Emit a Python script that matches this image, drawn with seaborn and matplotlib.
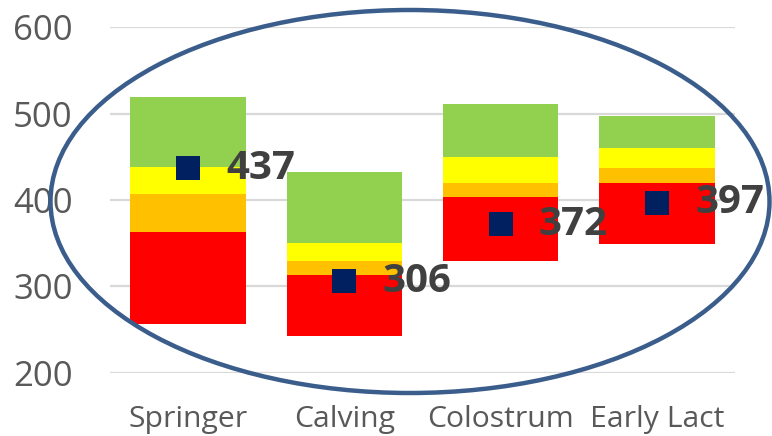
import matplotlib
matplotlib.use("Agg")
import matplotlib.pyplot as plt
from matplotlib.patches import Ellipse
import seaborn as sns
import numpy as np
import pandas as pd

# Stage categories and the floating band boundaries for each
categories = ["Springer", "Calving", "Colostrum", "Early Lact"]
band_base = [256, 243, 330, 349]
red_top = [363, 313, 404, 420]
orange_top = [407, 329, 420, 437]
yellow_top = [438, 350, 450, 460]
green_top = [520, 433, 511, 497]
mean_values = [437, 306, 372, 397]
y_ticks = [200, 300, 400, 500, 600]

sns.set_style("white")
plt.rcParams["font.family"] = ["Open Sans", "DejaVu Sans"]

W, H, DPI = 772, 436, 100
fig = plt.figure(figsize=(W / DPI, H / DPI), dpi=DPI)
ax = fig.add_axes([110 / W, (H - 372.7) / H, 625 / W, 345.2 / H])

layers = [
    (band_base, red_top, "#FF0000"),
    (red_top, orange_top, "#FFC000"),
    (orange_top, yellow_top, "#FFFF00"),
    (yellow_top, green_top, "#92D050"),
]
for lower, upper, color in layers:
    heights = np.array(upper) - np.array(lower)
    df = pd.DataFrame({"stage": categories, "h": heights})
    sns.barplot(data=df, x="stage", y="h", bottom=lower, color=color,
                width=0.74, saturation=1, linewidth=0, ax=ax, zorder=2)

means_df = pd.DataFrame({"stage": categories, "mean": mean_values})
sns.scatterplot(data=means_df, x="stage", y="mean", marker="s", s=300,
                color="#002060", linewidth=0, ax=ax, zorder=4)

for i, v in enumerate(mean_values):
    ax.text(i + 0.245, v, str(v), ha="left", va="center", fontsize=29,
            fontweight="bold", color="#404040", zorder=5)

ax.set_xlim(-0.5, 3.5)
ax.set_ylim(200, 600)
ax.set_yticks(y_ticks)
ax.set_yticklabels([str(t) for t in y_ticks])
ax.set_xlabel("")
ax.set_ylabel("")
ax.yaxis.grid(True, color="#D9D9D9", linewidth=1.6, zorder=0)
ax.set_axisbelow(True)
for s in ax.spines.values():
    s.set_visible(False)
ax.tick_params(axis="y", length=0, pad=27, labelsize=25, labelcolor="#595959")
ax.tick_params(axis="x", length=0, pad=23, labelsize=21.7, labelcolor="#595959")

# Highlight ellipse around the chart body
overlay = fig.add_axes([0, 0, 1, 1], facecolor="none")
overlay.set_xlim(0, W)
overlay.set_ylim(H, 0)
overlay.axis("off")
overlay.add_patch(Ellipse((410, 201.5), 719, 383, fill=False,
                          edgecolor="#3A5D8B", linewidth=3.2, clip_on=False))

fig.savefig("out.png", dpi=DPI)
